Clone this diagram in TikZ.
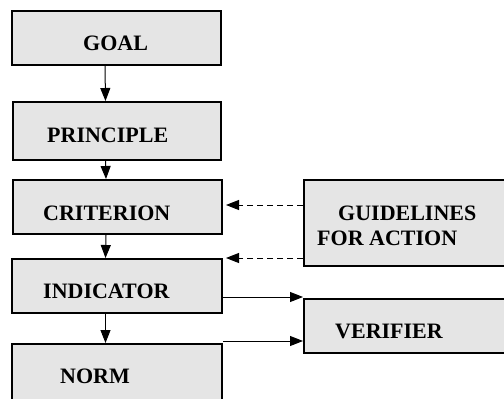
\documentclass[tikz,border=0pt]{standalone}
\usepackage{fontspec}
\setmainfont{Liberation Serif}
\usetikzlibrary{arrows.meta}

\begin{document}
\begin{tikzpicture}[
    x=1pt, y=-1pt,
    font=\fontsize{22}{26}\selectfont\bfseries,
    box/.style={draw, line width=2pt, fill=gray!20, inner sep=0pt},
    lbl/.style={anchor=base west, inner sep=0pt},
    link/.style={->, line width=1pt},
    dlink/.style={link, dash pattern=on 6pt off 4pt},
    >={Triangle[length=13pt,width=10pt]}
]
    \useasboundingbox (0,0) rectangle (504,399);
    % left column
    \node[box, minimum width=209pt, minimum height=54pt] (goal)      at (116.5,38)  {};
    \node[box, minimum width=208pt, minimum height=58pt] (principle) at (117,131)   {};
    \node[box, minimum width=209pt, minimum height=54pt] (criterion) at (117.5,207) {};
    \node[box, minimum width=210pt, minimum height=54pt] (indicator) at (117,286)   {};
    \node[box, minimum width=210pt, minimum height=76pt] (norm)      at (117,382)   {};
    % right column
    \node[box, minimum width=226pt, minimum height=86pt] (guide)     at (417,223)   {};
    \node[box, minimum width=226pt, minimum height=54pt] (verifier)  at (417,326)   {};
    % texts
    \node[lbl] (goal-t)      at (83,50)   {GOAL};
    \node[lbl] (principle-t) at (47,142)  {PRINCIPLE};
    \node[lbl] (criterion-t) at (43,220)  {CRITERION};
    \node[lbl] (indicator-t) at (43,298)  {INDICATOR};
    \node[lbl] (norm-t)      at (60,383)  {NORM};
    \node[lbl] (guide-t)     at (338,220) {GUIDELINES};
    \node[lbl] (action-t)    at (317,245) {FOR ACTION};
    \node[lbl] (verifier-t)  at (335,338) {VERIFIER};
    % arrows
    \foreach \a/\b in {goal/principle,principle/criterion,criterion/indicator,indicator/norm}
        \draw[link] ([xshift=-11.5pt]\a.south) -- ([xshift=-11.5pt]\b.north);
    \draw[dlink] ([yshift=18pt]guide.west) -- ([yshift=18pt,xshift=3pt]guide.west -| criterion.east);
    \draw[dlink] ([yshift=-35pt]guide.west) -- ([yshift=-35pt,xshift=3pt]guide.west -| indicator.east);
    \draw[link] ([yshift=-11pt]indicator.east) -- ([yshift=-11pt]indicator.east -| verifier.west);
    \draw[link] ([yshift=2pt]norm.north east) -- ([yshift=2pt]norm.north east -| verifier.west);
\end{tikzpicture}
\end{document}
